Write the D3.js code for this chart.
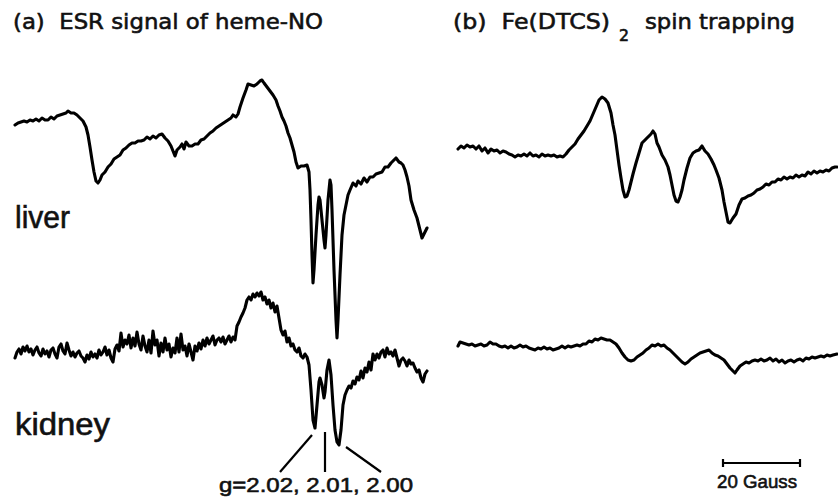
<!DOCTYPE html>
<html>
<head>
<meta charset="utf-8">
<script src="https://cdnjs.cloudflare.com/ajax/libs/d3/7.8.5/d3.min.js"></script>
<style>
  body { margin: 0; background: #fff; }
  svg text { fill: #111; stroke: #111; stroke-width: 0.6px; }
</style>
</head>
<body>
<div id="chartContainer"></div>
<script>
// field (arb. units, ~0.26 G each) vs. signal (arb. units)
var liver = [[0,-2],[3,0],[6,1],[9,2],[12,1],[15,3],[18,2],[21,4],[24,2],[27,5],[30,3],[33,3],[36,6],[39,4],[42,7],[45,8],[48,9],[51,10],[53,12],[56,10],[59,10],[62,8],[65,5],[68,2],[71,-4],[73,-12],[75,-24],[77,-37],[79,-49],[81,-58],[83,-60],[85,-57],[87,-52],[90,-49],[93,-44],[96,-41],[99,-36],[102,-34],[105,-32],[108,-27],[111,-25],[114,-22],[117,-20],[120,-20],[123,-18],[126,-18],[129,-17],[132,-14],[135,-16],[138,-13],[141,-15],[144,-12],[147,-11],[150,-15],[153,-18],[156,-23],[158,-28],[160,-33],[162,-27],[165,-24],[167,-21],[169,-26],[171,-19],[174,-23],[177,-23],[180,-21],[183,-21],[186,-17],[189,-16],[192,-13],[195,-10],[198,-8],[201,-5],[204,-3],[207,-1],[210,1],[213,3],[216,5],[218,8],[221,6],[223,9],[225,16],[228,25],[231,33],[233,39],[236,38],[239,37],[242,39],[245,42],[247,43],[249,40],[252,36],[255,32],[258,28],[261,23],[263,17],[265,12],[267,6],[269,2],[271,-3],[273,-10],[275,-15],[277,-22],[279,-29],[281,-39],[283,-45],[286,-43],[289,-43],[292,-42],[294,-49],[295,-67],[296,-97],[297,-132],[298,-160],[299,-147],[301,-112],[303,-82],[304,-74],[305,-77],[307,-97],[309,-117],[310,-125],[311,-112],[313,-77],[315,-57],[316,-62],[317,-87],[319,-147],[321,-197],[322,-215],[323,-197],[325,-152],[327,-112],[329,-92],[331,-82],[333,-72],[335,-67],[338,-60],[341,-63],[343,-58],[346,-61],[349,-55],[352,-59],[355,-54],[358,-54],[361,-51],[364,-50],[367,-49],[370,-44],[373,-44],[376,-40],[379,-37],[381,-35],[384,-39],[386,-40],[388,-42],[390,-47],[392,-54],[394,-63],[396,-77],[399,-87],[402,-95],[405,-107],[407,-115],[409,-111],[412,-105]];

var kidney = [[0,-6],[2,0],[4,3],[6,-2],[8,5],[10,1],[12,6],[14,0],[16,3],[18,-3],[20,2],[22,5],[24,-1],[26,-4],[28,3],[30,-2],[32,1],[34,-5],[36,2],[38,4],[40,-2],[42,-6],[44,5],[46,8],[48,1],[50,-2],[52,9],[54,2],[56,-4],[58,0],[60,-5],[62,-1],[64,1],[66,-4],[68,-6],[70,-10],[72,-3],[74,-7],[76,0],[78,-5],[80,-2],[82,-6],[84,2],[86,-3],[88,0],[90,5],[92,-3],[94,2],[96,-6],[98,-10],[100,3],[102,7],[104,1],[106,19],[108,5],[110,12],[112,8],[114,17],[116,4],[118,14],[120,6],[122,20],[124,8],[126,2],[128,16],[130,6],[132,0],[134,12],[136,-1],[138,21],[140,7],[142,12],[144,-4],[146,9],[148,0],[150,14],[152,2],[154,8],[156,-5],[158,4],[160,-1],[162,14],[164,0],[166,18],[168,2],[170,6],[172,-4],[174,8],[176,0],[178,-8],[180,6],[182,1],[184,9],[186,3],[188,12],[190,6],[192,14],[194,8],[196,12],[198,16],[200,7],[202,12],[204,14],[206,10],[208,15],[210,8],[212,12],[214,16],[216,10],[218,15],[220,12],[222,26],[224,30],[226,35],[228,39],[230,44],[232,52],[234,55],[236,52],[238,58],[240,55],[242,59],[244,56],[246,60],[248,52],[250,55],[252,48],[254,52],[256,44],[258,49],[260,40],[262,46],[264,34],[266,22],[268,17],[270,21],[272,10],[274,14],[276,6],[278,8],[280,2],[282,0],[284,4],[286,-4],[288,-6],[290,-2],[292,-5],[294,-13],[296,-38],[298,-68],[300,-76],[302,-53],[304,-30],[305,-26],[307,-33],[309,-46],[310,-40],[312,-18],[314,-8],[316,-23],[318,-53],[320,-78],[322,-90],[324,-93],[326,-78],[328,-53],[330,-43],[332,-38],[334,-34],[336,-36],[338,-29],[340,-32],[342,-25],[344,-28],[346,-19],[348,-26],[350,-16],[352,-20],[354,-10],[356,-18],[358,-2],[360,-8],[362,-2],[364,-6],[366,0],[368,2],[370,-5],[372,4],[374,-2],[376,0],[378,-4],[380,2],[382,-6],[384,-14],[386,-8],[388,-6],[390,-9],[392,-14],[394,-8],[396,-12],[398,-11],[400,-16],[402,-20],[404,-18],[406,-26],[408,-30],[410,-22],[412,-19]];

var dtcsLiver = [[0,1],[3,4],[6,2],[9,5],[12,3],[15,4],[18,1],[21,4],[24,-1],[27,2],[30,-3],[33,1],[36,-1],[39,0],[42,-3],[45,-1],[48,-2],[51,-4],[54,-5],[57,-7],[60,-5],[63,-6],[66,-4],[69,-6],[72,-3],[75,-6],[78,-5],[81,-7],[84,-4],[87,-6],[90,-5],[93,-6],[96,-5],[99,-7],[102,-6],[105,-7],[108,-4],[111,0],[114,3],[117,6],[120,11],[123,15],[126,19],[129,24],[132,29],[135,36],[138,43],[141,50],[144,53],[147,51],[150,47],[153,37],[155,25],[157,15],[159,0],[161,-15],[163,-28],[165,-40],[167,-47],[169,-46],[171,-40],[173,-32],[175,-24],[178,-13],[181,-3],[184,7],[187,10],[190,13],[193,16],[195,19],[197,16],[199,7],[201,3],[204,-5],[207,-10],[210,-17],[212,-25],[214,-35],[216,-45],[218,-51],[220,-52],[222,-47],[224,-40],[226,-30],[229,-18],[232,-8],[235,-3],[238,-1],[241,0],[244,4],[247,-1],[250,-4],[253,-9],[256,-15],[258,-20],[261,-28],[264,-40],[266,-52],[268,-62],[270,-72],[272,-73],[275,-68],[278,-64],[281,-55],[284,-49],[287,-48],[290,-46],[293,-45],[296,-43],[299,-40],[302,-39],[305,-37],[308,-34],[311,-35],[314,-32],[317,-32],[320,-29],[323,-30],[326,-27],[329,-29],[332,-27],[335,-28],[338,-25],[341,-27],[344,-25],[347,-26],[350,-22],[353,-24],[356,-21],[359,-23],[362,-21],[365,-22],[368,-20],[371,-21],[374,-18],[377,-17],[379,-17]];

var dtcsKidney = [[0,0],[2,4],[5,3],[8,2],[11,1],[14,2],[17,0],[20,1],[23,2],[26,0],[29,1],[32,4],[35,2],[38,2],[41,0],[44,-1],[47,0],[50,-2],[53,0],[56,-2],[59,-1],[62,1],[65,-1],[68,0],[71,-2],[74,-3],[77,-4],[80,-2],[83,-3],[86,-1],[89,-3],[92,-2],[95,-4],[98,-3],[101,-2],[104,0],[107,-2],[110,0],[113,-1],[116,0],[119,1],[122,0],[125,2],[128,2],[131,5],[134,4],[137,7],[140,6],[143,8],[146,7],[149,6],[152,6],[155,4],[158,2],[161,-2],[164,-7],[167,-11],[170,-14],[173,-15],[176,-14],[179,-11],[182,-9],[185,-7],[188,-4],[191,-2],[194,1],[197,0],[200,2],[203,0],[206,1],[209,-2],[212,-4],[215,-7],[218,-10],[221,-13],[224,-16],[227,-18],[230,-16],[233,-13],[236,-11],[239,-9],[242,-7],[245,-6],[248,-5],[251,-4],[254,-7],[257,-9],[260,-10],[263,-12],[266,-14],[269,-18],[272,-22],[275,-25],[277,-27],[279,-24],[282,-20],[285,-18],[288,-16],[291,-17],[294,-15],[297,-14],[300,-15],[303,-13],[306,-15],[309,-14],[312,-12],[315,-15],[318,-13],[321,-16],[324,-14],[327,-17],[330,-15],[333,-14],[336,-16],[339,-14],[342,-13],[345,-15],[348,-12],[351,-13],[354,-11],[357,-12],[360,-11],[363,-10],[366,-11],[369,-9],[372,-10],[375,-9],[379,-8]];

var gValues = ["2.02", "2.01", "2.00"];
var gField = [297, 310, 331];   // positions of the three heme-NO lines (field units)
var scaleBarGauss = 20;
var fieldPerGauss = 3.85;

var width = 838, height = 497;
var svg = d3.select("#chartContainer").append("svg")
  .attr("width", width).attr("height", height);

// panels
var xA = d3.scaleLinear().domain([0, 412]).range([15, 427]);
var xB = d3.scaleLinear().domain([0, 379]).range([458, 837]);
var yLiver = d3.scaleLinear().domain([0, 100]).range([123, 23]);
var yKidney = d3.scaleLinear().domain([0, 100]).range([352, 252]);
var yBLiver = d3.scaleLinear().domain([0, 100]).range([150, 50]);
var yBKidney = d3.scaleLinear().domain([0, 100]).range([346, 246]);

function trace(data, x, y) {
  var line = d3.line()
    .x(function (d) { return x(d[0]); })
    .y(function (d) { return y(d[1]); });
  svg.append("path")
    .datum(data)
    .attr("d", line)
    .attr("fill", "none")
    .attr("stroke", "#000")
    .attr("stroke-width", 3.1)
    .attr("stroke-linejoin", "round")
    .attr("stroke-linecap", "round");
}
trace(liver, xA, yLiver);
trace(kidney, xA, yKidney);
trace(dtcsLiver, xB, yBLiver);
trace(dtcsKidney, xB, yBKidney);

// text helper: fixed width so it lines up with the original lettering
function label(x, y, str, font, size, len, anchor) {
  return svg.append("text")
    .attr("x", x).attr("y", y)
    .attr("text-anchor", anchor || "start")
    .attr("textLength", len)
    .attr("lengthAdjust", "spacingAndGlyphs")
    .style("font-family", font)
    .style("font-size", size + "px")
    .text(str);
}
var sans = "Liberation Sans, Arial, sans-serif";

// titles
label(13, 29, "(a)\u00a0 ESR signal of heme-NO", "DejaVu Sans", 22, 310);
label(453, 29, "(b)\u00a0 Fe(DTCS)", "DejaVu Sans", 22, 157);
label(619, 41, "2", "DejaVu Sans", 15, 10);
label(645, 29, "spin trapping", "DejaVu Sans", 22, 150);

// tissue labels
label(15, 228, "liver", sans, 31, 55);
label(15, 435, "kidney", sans, 31, 95);

// g-value markers under the kidney spectrum
var gBottom = [280, 325, 381];
svg.selectAll(".gline")
  .data(gField)
  .enter().append("line")
  .attr("x1", function (d) { return xA(d); })
  .attr("y1", function (d, i) { return i === 1 ? 432 : (i === 0 ? 435 : 447); })
  .attr("x2", function (d, i) { return gBottom[i]; })
  .attr("y2", 472)
  .attr("stroke", "#000").attr("stroke-width", 2.2);

label(219, 492, "g=" + gValues.join(", "), sans, 21, 194);

// 20 Gauss scale bar
var sb0 = 265;
var sbX1 = xB(sb0), sbX2 = xB(sb0 + scaleBarGauss * fieldPerGauss);
svg.append("line").attr("x1", sbX1).attr("x2", sbX2).attr("y1", 463).attr("y2", 463)
  .attr("stroke", "#000").attr("stroke-width", 2.2);
[sbX1, sbX2].forEach(function (x) {
  svg.append("line").attr("x1", x).attr("x2", x).attr("y1", 459).attr("y2", 467)
    .attr("stroke", "#000").attr("stroke-width", 2.2);
});
label(717, 488, scaleBarGauss + " Gauss", sans, 19, 80);
</script>
</body>
</html>
